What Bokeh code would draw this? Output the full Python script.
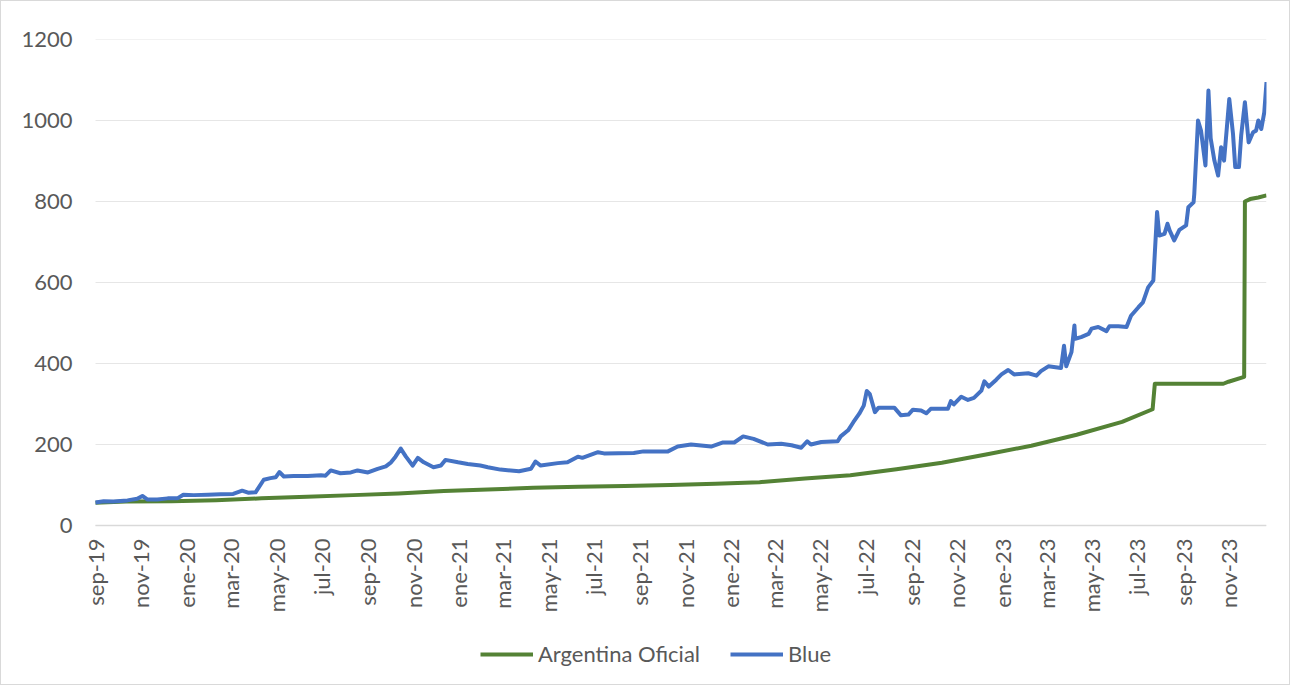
import math
import pandas as pd
from bokeh.plotting import figure
from bokeh.models import Range1d, FixedTicker, Legend, LegendItem
from bokeh.embed import file_html
from bokeh.resources import INLINE

# ---------------- data ----------------
official_dates = [
    "2019-09-21", "2019-11-01", "2020-01-01", "2020-03-01", "2020-05-01", "2020-07-01",
    "2020-09-01", "2020-11-01", "2021-01-01", "2021-03-01", "2021-05-01", "2021-07-01",
    "2021-09-01", "2021-11-01", "2022-01-01", "2022-03-01", "2022-05-01", "2022-07-01",
    "2022-09-01", "2022-11-01", "2023-01-01", "2023-03-01", "2023-05-01", "2023-07-01",
    "2023-08-11", "2023-08-14", "2023-11-14", "2023-11-21", "2023-12-12", "2023-12-13",
    "2023-12-20", "2023-12-31", "2024-01-11",
]
official_values = [
    56, 59, 60, 62.5, 67, 71,
    75, 79, 85, 89, 93, 95.5,
    97.5, 100, 103, 107, 116, 124,
    139, 155, 176, 197, 224, 256,
    287, 350, 350, 355, 367, 800,
    806, 810, 815,
]

blue_dates = [
    "2019-09-21", "2019-10-02", "2019-10-15", "2019-11-03", "2019-11-16", "2019-11-23",
    "2019-11-30", "2019-12-13", "2019-12-27", "2020-01-09", "2020-01-17", "2020-01-31",
    "2020-02-19", "2020-03-07", "2020-03-24", "2020-04-05", "2020-04-13", "2020-04-23",
    "2020-05-04", "2020-05-13", "2020-05-20", "2020-05-25", "2020-05-31", "2020-06-13",
    "2020-07-02", "2020-07-20", "2020-07-26", "2020-08-02", "2020-08-15", "2020-08-29",
    "2020-09-07", "2020-09-21", "2020-10-04", "2020-10-15", "2020-10-22", "2020-10-28",
    "2020-11-04", "2020-11-11", "2020-11-20", "2020-11-27", "2020-12-05", "2020-12-18",
    "2020-12-28", "2021-01-03", "2021-01-20", "2021-02-02", "2021-02-19", "2021-03-01",
    "2021-03-18", "2021-04-12", "2021-04-28", "2021-05-04", "2021-05-11", "2021-06-03",
    "2021-06-16", "2021-06-30", "2021-07-06", "2021-07-27", "2021-08-04", "2021-09-13",
    "2021-09-26", "2021-10-29", "2021-11-11", "2021-11-29", "2021-12-26", "2022-01-11",
    "2022-01-26", "2022-02-07", "2022-02-21", "2022-03-12", "2022-03-30", "2022-04-13",
    "2022-04-26", "2022-05-04", "2022-05-09", "2022-05-23", "2022-06-14", "2022-06-18",
    "2022-06-28", "2022-07-05", "2022-07-13", "2022-07-19", "2022-07-23", "2022-07-27",
    "2022-08-03", "2022-08-08", "2022-08-29", "2022-09-07", "2022-09-17", "2022-09-23",
    "2022-10-04", "2022-10-11", "2022-10-17", "2022-11-09", "2022-11-13", "2022-11-17",
    "2022-11-27", "2022-12-06", "2022-12-14", "2022-12-24", "2022-12-28", "2023-01-03",
    "2023-01-13", "2023-01-20", "2023-01-29", "2023-02-06", "2023-02-25", "2023-03-08",
    "2023-03-14", "2023-03-24", "2023-04-10", "2023-04-14", "2023-04-17", "2023-04-24",
    "2023-04-28", "2023-04-29", "2023-05-07", "2023-05-17", "2023-05-21", "2023-05-30",
    "2023-06-10", "2023-06-14", "2023-06-26", "2023-07-07", "2023-07-13", "2023-07-23",
    "2023-07-29", "2023-08-05", "2023-08-12", "2023-08-17", "2023-08-20", "2023-08-27",
    "2023-08-31", "2023-09-03", "2023-09-09", "2023-09-16", "2023-09-25", "2023-09-28",
    "2023-10-05", "2023-10-06", "2023-10-11", "2023-10-15", "2023-10-21", "2023-10-25",
    "2023-10-28", "2023-11-02", "2023-11-07", "2023-11-11", "2023-11-15", "2023-11-22",
    "2023-11-27", "2023-11-30", "2023-12-05", "2023-12-08", "2023-12-13", "2023-12-18",
    "2023-12-24", "2023-12-28", "2023-12-31", "2024-01-04", "2024-01-08", "2024-01-11",
]
blue_values = [
    57, 60, 59, 62, 66, 73,
    64, 64, 67, 67, 76, 75,
    76, 77, 78, 86, 81, 82,
    113, 117, 119, 132, 121, 122,
    122, 124, 123, 136, 129, 131,
    136, 131, 140, 146, 156, 170,
    190, 170, 148, 167, 156, 144,
    148, 162, 156, 152, 148, 144,
    138, 134, 140, 158, 148, 154,
    156, 170, 167, 181, 178, 179,
    183, 183, 195, 200, 195, 205,
    205, 220, 214, 200, 202, 198,
    192, 208, 200, 206, 208, 220,
    235, 255, 276, 296, 332, 325,
    280, 291, 291, 272, 274, 286,
    284, 277, 288, 288, 307, 299,
    318, 310, 315, 333, 356, 343,
    360, 373, 384, 373, 376, 370,
    381, 393, 389, 444, 393, 428,
    494, 461, 465, 473, 486, 490,
    480, 492, 492, 490, 518, 539,
    551, 588, 605, 774, 716, 720,
    745, 728, 704, 730, 741, 786,
    798, 819, 1000, 975, 889, 1074,
    956, 901, 864, 934, 901, 1053,
    967, 885, 885, 963, 1045, 946,
    971, 975, 1000, 979, 1020, 1095,
]

tick_dates = [
    "2019-09-21", "2019-11-21", "2020-01-21", "2020-03-21", "2020-05-21", "2020-07-21",
    "2020-09-21", "2020-11-21", "2021-01-21", "2021-03-21", "2021-05-21", "2021-07-21",
    "2021-09-21", "2021-11-21", "2022-01-21", "2022-03-21", "2022-05-21", "2022-07-21",
    "2022-09-21", "2022-11-21", "2023-01-21", "2023-03-21", "2023-05-21", "2023-07-21",
    "2023-09-21", "2023-11-21",
]
tick_labels = [
    "sep-19", "nov-19", "ene-20", "mar-20", "may-20", "jul-20",
    "sep-20", "nov-20", "ene-21", "mar-21", "may-21", "jul-21",
    "sep-21", "nov-21", "ene-22", "mar-22", "may-22", "jul-22",
    "sep-22", "nov-22", "ene-23", "mar-23", "may-23", "jul-23",
    "sep-23", "nov-23",
]
y_ticks = [0, 200, 400, 600, 800, 1000, 1200]

series_names = ["Argentina Oficial", "Blue"]
series_colors = ["#548235", "#4472C4"]

# ---------------- styling / layout ----------------
FONT = "Lato"
TEXT = "#595959"
FS = "22px"
PLOT_PX = 486          # pixels between y=0 and y=1200
BELOW_PX = 159         # room under y=0 for tick labels and legend (inside the frame)
DATA_W = 1171          # pixels spanned by the data dates
LEFT_PAD = 15          # extra frame room at left so the first tick label is not clipped
y_bottom = -1200 * BELOW_PX / PLOT_PX

od = pd.to_datetime(official_dates)
bd = pd.to_datetime(blue_dates)
tick_ms = [int(pd.Timestamp(d).value // 10**6) for d in tick_dates]

x_start = pd.Timestamp(blue_dates[0])
x_end = pd.Timestamp(blue_dates[-1])
pad = (x_end - x_start) * (LEFT_PAD / DATA_W)

p = figure(
    frame_width=DATA_W + LEFT_PAD, frame_height=PLOT_PX + BELOW_PX,
    x_axis_type="datetime",
    output_backend="svg", toolbar_location=None,
    x_range=Range1d(x_start - pad, x_end),
    y_range=Range1d(y_bottom, 1200),
    min_border_left=94 - LEFT_PAD, min_border_right=23, min_border_top=38, min_border_bottom=0,
)
p.styles = {"border": "1px solid #d9d9d9"}
p.outline_line_color = None
p.background_fill_color = "white"
p.border_fill_color = "white"

# horizontal gridlines spanning the data dates only
p.segment(x0=[x_start] * len(y_ticks), x1=[x_end] * len(y_ticks), y0=y_ticks, y1=y_ticks,
          line_color="#e6e6e6", line_width=1, level="underlay")

g = p.line(od, official_values, line_color=series_colors[0], line_width=4, line_join="round")
b = p.line(bd, blue_values, line_color=series_colors[1], line_width=4, line_join="round")

# x axis drawn at y = 0 inside the frame
p.xaxis.fixed_location = 0
p.xaxis.bounds = (x_start, x_end)
p.xaxis.ticker = FixedTicker(ticks=tick_ms)
p.xaxis.major_label_overrides = dict(zip(tick_ms, tick_labels))
p.xaxis.major_label_orientation = math.pi / 2
p.xaxis.major_tick_line_color = None
p.xaxis.minor_tick_line_color = None
p.xaxis.axis_line_color = "#d9d9d9"
p.xaxis.axis_line_width = 1.5
p.xaxis.major_label_standoff = 7
p.xaxis.major_label_text_font = FONT
p.xaxis.major_label_text_font_size = FS
p.xaxis.major_label_text_color = TEXT

# y axis
p.yaxis.ticker = FixedTicker(ticks=y_ticks)
p.yaxis.axis_line_color = None
p.yaxis.major_tick_line_color = None
p.yaxis.minor_tick_line_color = None
p.yaxis.major_label_standoff = 17 - LEFT_PAD
p.yaxis.major_label_text_font = FONT
p.yaxis.major_label_text_font_size = FS
p.yaxis.major_label_text_color = TEXT

p.xgrid.grid_line_color = None
p.ygrid.grid_line_color = None

legend = Legend(
    items=[LegendItem(label=series_names[0], renderers=[g]),
           LegendItem(label=series_names[1], renderers=[b])],
    orientation="horizontal", location=(385 + LEFT_PAD, 17),
    border_line_color=None, background_fill_alpha=0,
    label_text_font=FONT, label_text_font_size=FS, label_text_color=TEXT,
    glyph_width=53, glyph_height=20, spacing=30, label_standoff=5,
    padding=0, margin=0,
)
p.add_layout(legend, "center")

open("out.html", "w").write(file_html(p, INLINE))
